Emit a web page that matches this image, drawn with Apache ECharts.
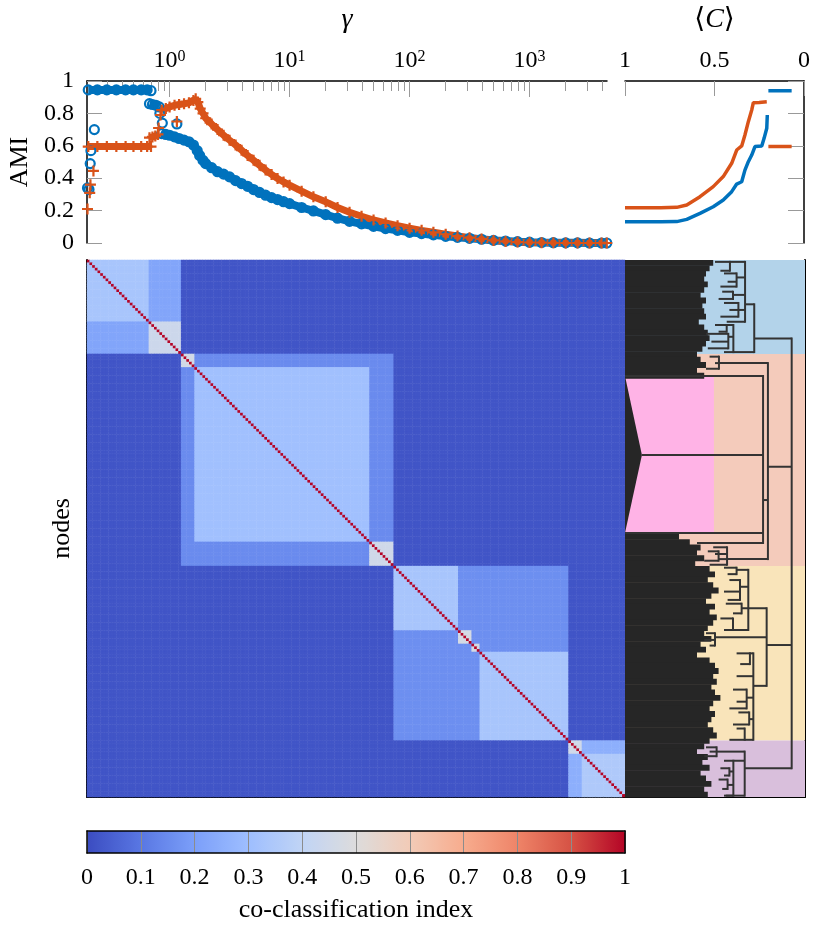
<!DOCTYPE html>
<html>
<head>
<meta charset="utf-8">
<script src="https://cdn.jsdelivr.net/npm/echarts@6/dist/echarts.min.js"></script>
<style>
html, body { margin: 0; padding: 0; background: #fff; }
#main { width: 830px; height: 925px; }
</style>
</head>
<body>
<div id="main"></div>
<script>
// ---- top left: AMI against resolution gamma (null = gap between runs of points)
var gammaBlue = [0.207, null, 0.213, null, 0.218, null, 0.221, null, 0.236, null,
  0.21, 0.25, 0.3, 0.36, 0.43, 0.5, 0.58, 0.65, 0.70, null,
  0.68, 0.72, 0.77, 0.82, null,
  0.83, null, 0.87, null, 1.15, null,
  0.86, 0.93, 1.0, 1.1, 1.2, 1.32, 1.45, 1.58, 1.7, 1.78, 1.9, 2.0, 2.24, 2.51, 2.82, 3.16, 3.55, 3.98, 4.47, 5.01,
  5.62, 6.31, 7.08, 7.94, 8.91, 10, 12.6, 15.8, 20, 25.1, 31.6, 39.8, 50.1, 63.1, 79.4, 100, 126, 158, 200, 251,
  316, 398, 501, 631, 794, 1000, 1260, 1580, 2000, 2510, 3160, 3980, 4400];
var amiBlue = [0.34, null, 0.33, null, 0.49, null, 0.57, null, 0.70, null,
  0.945, 0.945, 0.945, 0.945, 0.945, 0.945, 0.945, 0.945, 0.94, null,
  0.86, 0.855, 0.85, 0.84, null,
  0.80, null, 0.74, null, 0.735, null,
  0.675, 0.67, 0.665, 0.655, 0.645, 0.635, 0.625, 0.605, 0.57, 0.54, 0.51, 0.49, 0.465, 0.44, 0.425, 0.408, 0.385, 0.367, 0.35, 0.33,
  0.312, 0.295, 0.28, 0.268, 0.255, 0.243, 0.219, 0.198, 0.175, 0.153, 0.134, 0.118, 0.103, 0.089, 0.078, 0.066, 0.058, 0.05, 0.041, 0.035,
  0.029, 0.023, 0.016, 0.012, 0.008, 0.005, 0.003, 0.002, 0.001, 0.001, 0, 0, 0];

var gammaOrange = [0.207, null, 0.216, null, 0.219, null, 0.232, null,
  0.21, 0.25, 0.3, 0.36, 0.43, 0.5, 0.58, 0.65, 0.70, null,
  0.68, 0.72, 0.76, 0.8, null,
  0.81, null, 0.84, null, 1.15, null,
  0.86, 0.93, 1.0, 1.1, 1.2, 1.32, 1.45, 1.58, 1.65, 1.72, 1.8, 1.9, 2.0, 2.24, 2.51, 2.82, 3.16, 3.55, 3.98, 4.47, 5.01,
  5.62, 6.31, 7.08, 7.94, 8.91, 10, 12.6, 15.8, 20, 25.1, 31.6, 39.8, 50.1, 63.1, 79.4, 100, 126, 158, 200, 251,
  316, 398, 501, 631, 794, 1000, 1260, 1580, 2000, 2510, 3160, 3980, 4400];
var amiOrange = [0.21, null, 0.31, null, 0.36, null, 0.445, null,
  0.595, 0.595, 0.595, 0.595, 0.595, 0.595, 0.595, 0.595, 0.595, null,
  0.65, 0.655, 0.66, 0.67, null,
  0.71, null, 0.79, null, 0.75, null,
  0.82, 0.83, 0.84, 0.85, 0.855, 0.86, 0.865, 0.88, 0.89, 0.87, 0.83, 0.80, 0.77, 0.734, 0.70, 0.665, 0.635, 0.605, 0.573, 0.54, 0.511,
  0.48, 0.45, 0.423, 0.398, 0.377, 0.357, 0.32, 0.285, 0.254, 0.219, 0.19, 0.165, 0.142, 0.124, 0.107, 0.091, 0.078, 0.066, 0.054, 0.043,
  0.033, 0.025, 0.016, 0.01, 0.006, 0.003, 0.002, 0.001, 0, 0, 0, 0, 0];

var gammaMinorTicks = [0.3, 0.4, 0.5, 0.6, 0.7, 0.8, 0.9, 2, 3, 4, 5, 6, 7, 8, 9, 20, 30, 40, 50, 60, 70, 80, 90,
  200, 300, 400, 500, 600, 700, 800, 900, 2000, 3000, 4000];
var gammaMajorTicks = [1, 10, 100, 1000];

// ---- top right: AMI against mean consensus <C>
var cBlue = [1.0, 0.9, 0.8, 0.711, 0.655, 0.581, 0.507, 0.451, 0.404, 0.376, 0.348, 0.33, 0.311, 0.292, 0.274, 0.255, 0.236, 0.223, 0.208, 0.205, null, 0.199, 0.15, 0.1, 0.069];
var amiBlueC = [0.131, 0.131, 0.131, 0.132, 0.146, 0.183, 0.224, 0.265, 0.317, 0.364, 0.378, 0.45, 0.502, 0.543, 0.595, 0.597, 0.599, 0.646, 0.708, 0.79, null, 0.94, 0.94, 0.94, 0.94];
var cOrange = [1.0, 0.9, 0.8, 0.711, 0.655, 0.581, 0.507, 0.451, 0.404, 0.376, 0.348, 0.33, 0.311, 0.292, 0.283, 0.25, 0.208, null, 0.199, 0.15, 0.1, 0.069];
var amiOrangeC = [0.218, 0.218, 0.218, 0.22, 0.235, 0.286, 0.348, 0.41, 0.492, 0.574, 0.599, 0.667, 0.749, 0.821, 0.866, 0.868, 0.872, null, 0.595, 0.595, 0.595, 0.595];

// ---- co-classification matrix, block structure (node indices)
var nNodes = 200;
var blockEdges = [0, 23, 35, 40, 105, 114, 138, 143, 146, 179, 184, 200];
var blockSelf = [0.33, 0.44, 0.46, 0.31, 0.45, 0.33, 0.47, 0.47, 0.33, 0.45, 0.35];
var blockGroup = [0, 0, 1, 1, 1, 2, 2, 2, 2, 3, 3];
var groupShared = [0.22, 0.15, 0.16, 0.25];
var betweenGroups = 0.02;

// ---- dendrogram (y = node index, h = merge distance 0..1)
var clusterEdges = [0, 35, 114, 179, 200];
var pinkSpan = [43.2, 101.7];
var pinkDepth = 0.494;
var wedge = [[0, 43.2], [0.094, 72.6], [0, 101.7]];
// black leaf mass, one value per 2 nodes
var leafDepth = [0.49, 0.47, 0.45, 0.44, 0.46, 0.44, 0.42, 0.45, 0.43, 0.44, 0.45, 0.41, 0.44, 0.46, 0.47, 0.45, 0.43, 0.40,
  0.42, 0.45, 0.40, 0.44,
  0, 0, 0, 0, 0, 0, 0, 0, 0, 0, 0, 0, 0, 0, 0, 0, 0, 0, 0, 0, 0, 0, 0, 0, 0, 0, 0, 0, 0,
  0.30, 0.36, 0.42, 0.40, 0.44, 0.39,
  0.47, 0.50, 0.46, 0.49, 0.52, 0.48, 0.45, 0.50, 0.47, 0.51, 0.49, 0.46, 0.44, 0.48, 0.42, 0.45, 0.40, 0.47, 0.50, 0.52,
  0.49, 0.51, 0.48, 0.50, 0.53, 0.49, 0.47, 0.50, 0.48, 0.46, 0.49, 0.51, 0.47,
  0.44, 0.40, 0.46, 0.43, 0.47, 0.42, 0.45, 0.48, 0.44, 0.46];
// each clade: [h, y1, h1, y2, h2, ...] -> vertical at h, arms from (hi, yi)
var clades = [
  [0.926, 29.2, 0.718, 77.0, 0.794, 143.4, 0.787, 189.3, 0.665],
  [0.718, 16.5, 0.667, 34.3, 0.602],
  [0.667, 0.7, 0.583, 6.5, 0.62, 13.0, 0.60, 18.6, 0.63, 23.0, 0.565],
  [0.583, 0.7, 0.50, 4.0, 0.53],
  [0.62, 5.0, 0.55, 8.1, 0.57, 9.9, 0.53],
  [0.60, 11.8, 0.54, 14.5, 0.52],
  [0.63, 16.0, 0.55, 18.6, 0.58, 21.1, 0.53],
  [0.602, 24.2, 0.565, 28.6, 0.574, 34.3, 0.55],
  [0.565, 24.2, 0.50, 26.7, 0.52],
  [0.574, 27.5, 0.45, 30.4, 0.48, 32.9, 0.46],
  [0.794, 38.4, 0.522, 89.4, 0.767, 111.4, 0.567],
  [0.522, 36.0, 0.47, 38.4, 0.50, 40.5, 0.45],
  [0.767, 43.2, 0, 72.6, 0.094, 101.7, 0, 105.4, 0.40],
  [0.567, 107.0, 0.49, 109.5, 0.50, 111.4, 0.52, 113.5, 0.47],
  [0.52, 108.5, 0.46, 112.0, 0.44],
  [0.787, 129.7, 0.685, 140.5, 0.50, 158.6, 0.713],
  [0.685, 115.4, 0.62, 121.7, 0.639, 129.7, 0.648, 137.8, 0.60],
  [0.62, 114.6, 0.55, 117.0, 0.57],
  [0.639, 119.2, 0.58, 123.5, 0.55, 126.6, 0.57],
  [0.648, 128.0, 0.56, 131.6, 0.60],
  [0.60, 133.5, 0.53, 137.8, 0.55],
  [0.50, 139.0, 0.45, 141.5, 0.44, 143.6, 0.47],
  [0.713, 146.5, 0.694, 155.0, 0.62, 163.0, 0.676, 171.0, 0.69, 178.7, 0.665],
  [0.694, 146.5, 0.62, 150.5, 0.64],
  [0.676, 160.0, 0.60, 164.5, 0.62, 167.0, 0.58],
  [0.69, 168.5, 0.63, 173.0, 0.60],
  [0.665, 174.5, 0.62, 178.7, 0.58],
  [0.665, 183.1, 0.509, 186.5, 0.602, 199.5, 0.56],
  [0.602, 186.5, 0.55, 190.5, 0.58, 195.5, 0.57, 199.5, 0.55],
  [0.58, 189.3, 0.53, 192.0, 0.55],
  [0.57, 193.5, 0.52, 197.0, 0.54],
  [0.509, 181.5, 0.45, 183.1, 0.47, 184.8, 0.44]
];

// ---- styles
var FONT = "'Liberation Serif', 'DejaVu Serif', serif";
var BLUE = '#0072bd', ORANGE = '#d95319';
var coolwarm = ['#3b4cc0', '#5977e3', '#7b9ff9', '#9ebeff', '#c0d4f5', '#dddcdc',
  '#f2cbb7', '#f7ac8e', '#ee8468', '#d65244', '#b40426'];
var bandColors = ['#b3d3ea', '#f4cbbb', '#f9e4ba', '#d9bfdc'];
var pinkColor = '#ffb3e6';
var leafColor = '#262626';
var linkColor = '#333333';
var plusPath = 'path://M4,0H6V4H10V6H6V10H4V6H0V4H4Z';

function pairs(xs, ys) {
  var out = [];
  for (var i = 0; i < xs.length; i++) {
    out.push(xs[i] == null ? ['-', '-'] : [xs[i], ys[i]]);
  }
  return out;
}

// matrix cells
var blockOf = [];
for (var b = 0; b < blockEdges.length - 1; b++) {
  for (var k = blockEdges[b]; k < blockEdges[b + 1]; k++) blockOf[k] = b;
}
var nodeCats = [];
for (var n = 0; n < nNodes; n++) nodeCats.push(String(n));
var cells = [];
for (var i = 0; i < nNodes; i++) {
  for (var j = 0; j < nNodes; j++) {
    var bi = blockOf[i], bj = blockOf[j], v;
    if (i === j) v = 1;
    else if (bi === bj) v = blockSelf[bi];
    else if (blockGroup[bi] === blockGroup[bj]) v = groupShared[blockGroup[bi]];
    else v = betweenGroups;
    cells.push([j, i, v]);
  }
}

var bandData = [];
for (var c = 0; c < clusterEdges.length - 1; c++) bandData.push([0, clusterEdges[c], clusterEdges[c + 1]]);
var leafData = leafDepth.map(function (d, r) { return [d, r * 2]; });

var dom = document.getElementById('main');
var myChart = echarts.init(dom);

var noAxisBits = { axisLabel: { show: false }, axisTick: { show: false }, splitLine: { show: false } };
var blackLine = { show: true, onZero: false, lineStyle: { color: '#000', width: 1.5 } };
var thickLine = { show: true, onZero: false, lineStyle: { color: '#000', width: 2 } };

var option = {
  animation: false,
  textStyle: { fontFamily: FONT, color: '#000' },
  grid: [
    { left: 87, top: 81, width: 520, height: 162, outerBoundsMode: 'none' },
    { left: 625, top: 81, width: 179, height: 162, outerBoundsMode: 'none' },
    { left: 87, top: 260, width: 538, height: 537, outerBoundsMode: 'none' },
    { left: 625, top: 260, width: 180, height: 537, outerBoundsMode: 'none' },
    { left: 87, top: 831, width: 538, height: 22, outerBoundsMode: 'none' }
  ],
  xAxis: [
    {
      gridIndex: 0, type: 'log', logBase: 10, min: 0.205, max: 4420, position: 'top',
      axisLine: blackLine,
      axisTick: { show: true, inside: true, length: 10, lineStyle: { color: '#999' }, customValues: gammaMinorTicks },
      axisLabel: {
        customValues: gammaMajorTicks, margin: 8,
        formatter: function (v) { return '{b|10}{s|' + Math.round(Math.log10(v)) + '}'; },
        rich: {
          b: { fontFamily: FONT, fontSize: 24, color: '#000' },
          s: { fontFamily: FONT, fontSize: 16, color: '#000', verticalAlign: 'top' }
        }
      },
      splitLine: { show: false },
      name: 'γ', nameLocation: 'middle', nameGap: 47,
      nameTextStyle: { fontFamily: FONT, fontSize: 28, fontStyle: 'italic', color: '#000' }
    },
    {
      gridIndex: 0, type: 'log', logBase: 10, min: 0.205, max: 4420, position: 'bottom', offset: -162,
      axisLine: { show: false, onZero: false },
      axisTick: { show: true, inside: false, length: 16, lineStyle: { color: '#999' }, customValues: gammaMajorTicks },
      axisLabel: { show: false }, splitLine: { show: false }
    },
    {
      gridIndex: 1, type: 'value', min: 0, max: 1, interval: 0.5, inverse: true, position: 'top',
      axisLine: blackLine,
      axisTick: { show: true, inside: true, length: 15, lineStyle: { color: '#999' } },
      axisLabel: { fontSize: 24, margin: 8, color: '#000' },
      splitLine: { show: false },
      name: '⟨{i|C}⟩', nameLocation: 'middle', nameGap: 47,
      nameTextStyle: { fontFamily: FONT, fontSize: 28, color: '#000',
        rich: { i: { fontFamily: FONT, fontSize: 28, fontStyle: 'italic', color: '#000' } } }
    },
    Object.assign({ gridIndex: 2, type: 'category', data: nodeCats, axisLine: thickLine }, noAxisBits),
    Object.assign({ gridIndex: 3, type: 'value', min: 0, max: 1, axisLine: thickLine }, noAxisBits),
    {
      gridIndex: 4, type: 'value', min: 0, max: 1, interval: 0.1, position: 'bottom', z: 10,
      axisLine: blackLine, axisTick: { show: false },
      axisLabel: { fontSize: 24, margin: 13, color: '#000' },
      splitLine: { show: true, lineStyle: { color: '#8c8c8c', width: 1 } },
      name: 'co-classification index', nameLocation: 'middle', nameGap: 44,
      nameTextStyle: { fontFamily: FONT, fontSize: 26, color: '#000' }
    },
    Object.assign({ gridIndex: 4, type: 'value', min: 0, max: 1, position: 'top', z: 10, axisLine: blackLine }, noAxisBits)
  ],
  yAxis: [
    {
      gridIndex: 0, type: 'value', min: 0, max: 1, interval: 0.2,
      axisLine: blackLine,
      axisTick: { show: true, inside: true, length: 15, lineStyle: { color: '#999' } },
      axisLabel: { fontSize: 24, margin: 13, color: '#000' },
      splitLine: { show: false },
      name: 'AMI', nameLocation: 'middle', nameGap: 52, nameRotate: 90,
      nameTextStyle: { fontFamily: FONT, fontSize: 26, color: '#000' }
    },
    {
      gridIndex: 1, type: 'value', min: 0, max: 1, interval: 0.2, position: 'right',
      axisLine: blackLine,
      axisTick: { show: true, inside: true, length: 16, lineStyle: { color: '#999' } },
      axisLabel: { show: false }, splitLine: { show: false }
    },
    Object.assign({ gridIndex: 2, type: 'category', data: nodeCats, inverse: true,
      axisLine: thickLine,
      name: 'nodes', nameLocation: 'middle', nameGap: 12, nameRotate: 90,
      nameTextStyle: { fontFamily: FONT, fontSize: 26, color: '#000' } }, noAxisBits),
    Object.assign({ gridIndex: 3, type: 'value', min: 0, max: 200, inverse: true, position: 'right',
      axisLine: thickLine }, noAxisBits),
    Object.assign({ gridIndex: 4, type: 'value', min: 0, max: 1, position: 'left', z: 10, axisLine: blackLine }, noAxisBits),
    Object.assign({ gridIndex: 4, type: 'value', min: 0, max: 1, position: 'right', z: 10, axisLine: blackLine }, noAxisBits)
  ],
  visualMap: {
    type: 'continuous', min: 0, max: 1, seriesIndex: 4, orient: 'horizontal',
    left: 87, top: 831, itemWidth: 22, itemHeight: 538, padding: 0,
    calculable: false, hoverLink: false, text: null,
    inRange: { color: coolwarm }
  },
  series: [
    {
      type: 'line', xAxisIndex: 0, yAxisIndex: 0, data: pairs(gammaBlue, amiBlue),
      symbol: 'circle', symbolSize: 9, connectNulls: false,
      itemStyle: { color: 'rgba(0,0,0,0)', borderColor: BLUE, borderWidth: 2.2 },
      lineStyle: { color: BLUE, width: 8 }
    },
    {
      type: 'line', xAxisIndex: 0, yAxisIndex: 0, data: pairs(gammaOrange, amiOrange),
      symbol: plusPath, symbolSize: 11, connectNulls: false,
      itemStyle: { color: ORANGE },
      lineStyle: { color: ORANGE, width: 7 }
    },
    {
      type: 'line', xAxisIndex: 2, yAxisIndex: 1, data: pairs(cBlue, amiBlueC),
      showSymbol: false, connectNulls: false,
      itemStyle: { color: BLUE }, lineStyle: { color: BLUE, width: 3.5 }
    },
    {
      type: 'line', xAxisIndex: 2, yAxisIndex: 1, data: pairs(cOrange, amiOrangeC),
      showSymbol: false, connectNulls: false,
      itemStyle: { color: ORANGE }, lineStyle: { color: ORANGE, width: 3.5 }
    },
    {
      type: 'heatmap', xAxisIndex: 3, yAxisIndex: 2, data: cells,
      progressive: 0, emphasis: { disabled: true }
    },
    {
      type: 'custom', xAxisIndex: 4, yAxisIndex: 3, data: bandData, silent: true,
      renderItem: function (params, api) {
        var p0 = api.coord([0, api.value(1)]);
        var p1 = api.coord([1, api.value(2)]);
        return { type: 'rect', shape: { x: p0[0], y: p0[1], width: p1[0] - p0[0], height: p1[1] - p0[1] },
          style: { fill: bandColors[params.dataIndex] } };
      }
    },
    {
      type: 'custom', xAxisIndex: 4, yAxisIndex: 3, data: [[0, pinkSpan[0]]], silent: true,
      renderItem: function (params, api) {
        var p0 = api.coord([0, pinkSpan[0]]);
        var p1 = api.coord([pinkDepth, pinkSpan[1]]);
        return { type: 'rect', shape: { x: p0[0], y: p0[1], width: p1[0] - p0[0], height: p1[1] - p0[1] },
          style: { fill: pinkColor } };
      }
    },
    {
      type: 'custom', xAxisIndex: 4, yAxisIndex: 3, data: leafData, silent: true,
      renderItem: function (params, api) {
        var d = api.value(0), y = api.value(1);
        if (!d) return null;
        var p0 = api.coord([0, y]);
        var p1 = api.coord([d, y + 2]);
        return { type: 'rect', shape: { x: p0[0], y: p0[1], width: p1[0] - p0[0], height: p1[1] - p0[1] + 0.5 },
          style: { fill: leafColor } };
      }
    },
    {
      type: 'custom', xAxisIndex: 4, yAxisIndex: 3, data: [wedge[1]], silent: true,
      renderItem: function (params, api) {
        return { type: 'polygon', shape: { points: wedge.map(function (p) { return api.coord(p); }) },
          style: { fill: leafColor } };
      }
    },
    {
      type: 'custom', xAxisIndex: 4, yAxisIndex: 3, silent: true,
      data: clades.map(function (cl) { return [cl[0], cl[1]]; }),
      renderItem: function (params, api) {
        var cl = clades[params.dataIndex];
        var h = cl[0], ymin = Infinity, ymax = -Infinity, kids = [];
        var st = { stroke: linkColor, lineWidth: 2 };
        for (var k = 1; k < cl.length; k += 2) {
          var y = cl[k], h0 = cl[k + 1];
          ymin = Math.min(ymin, y); ymax = Math.max(ymax, y);
          var a = api.coord([h0, y]), b = api.coord([h, y]);
          kids.push({ type: 'line', shape: { x1: a[0], y1: a[1], x2: b[0], y2: b[1] }, style: st });
        }
        var t = api.coord([h, ymin]), u = api.coord([h, ymax]);
        kids.push({ type: 'line', shape: { x1: t[0], y1: t[1] - 1, x2: u[0], y2: u[1] + 1 }, style: st });
        return { type: 'group', children: kids };
      }
    }
  ]
};

myChart.setOption(option);
</script>
</body>
</html>
